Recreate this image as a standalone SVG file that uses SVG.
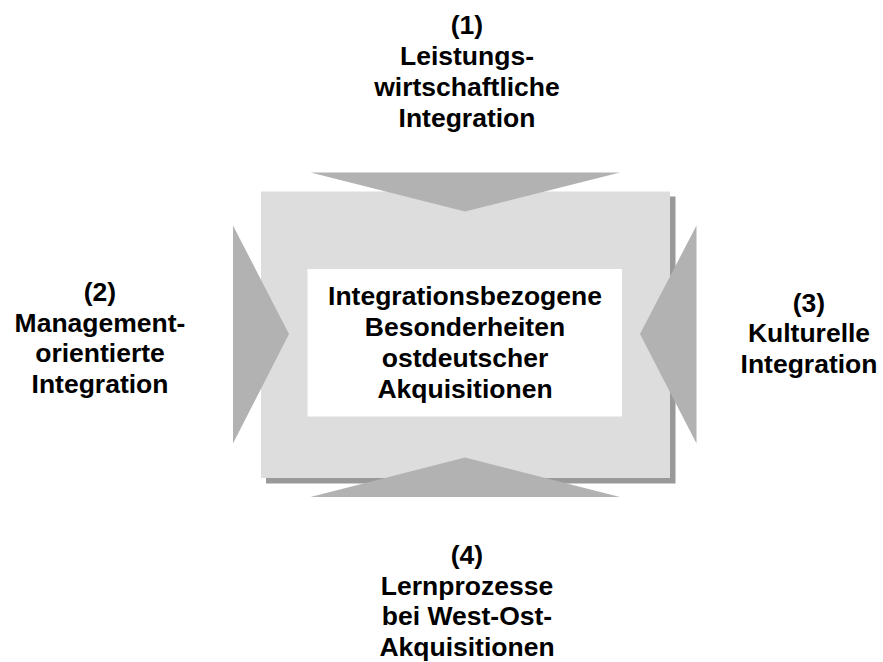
<svg xmlns="http://www.w3.org/2000/svg" width="883" height="662" viewBox="0 0 883 662">
<style>
text{font-family:"Liberation Sans",Arial,sans-serif;font-weight:bold;font-size:26.5px;fill:#000;text-anchor:middle}
.tri{fill:#B2B2B2}
</style>
<rect width="883" height="662" fill="#fff"/>
<g id="center-frame">
<rect x="266" y="196.5" width="409.5" height="287" fill="#999999"/>
<rect x="261" y="191.5" width="409" height="286.5" fill="#DDDDDD"/>
</g>
<g id="connectors">
<polygon class="tri" points="310.5,172.5 620,172.5 465,211.5"/>
<polygon class="tri" points="233,225.5 233,443.5 289,334"/>
<polygon class="tri" points="696.5,225.5 696.5,443.5 640,334"/>
<polygon class="tri" points="310.5,497 620,497 465,457.5"/>
</g>
<g id="center">
<rect x="307.5" y="269" width="314.5" height="147.5" fill="#fff"/>
<text x="465" y="305">Integrationsbezogene</text>
<text x="465" y="336">Besonderheiten</text>
<text x="465" y="367">ostdeutscher</text>
<text x="465" y="398">Akquisitionen</text>
</g>
<g id="n1">
<text x="467" y="34">(1)</text>
<text x="467" y="65">Leistungs-</text>
<text x="467" y="96">wirtschaftliche</text>
<text x="467" y="127">Integration</text>
</g>
<g id="n2">
<text x="100" y="301">(2)</text>
<text x="100" y="332">Management-</text>
<text x="100" y="362">orientierte</text>
<text x="100" y="393">Integration</text>
</g>
<g id="n3">
<text x="809" y="312">(3)</text>
<text x="809" y="342">Kulturelle</text>
<text x="809" y="373">Integration</text>
</g>
<g id="n4">
<text x="467" y="564">(4)</text>
<text x="467" y="594.5">Lernprozesse</text>
<text x="467" y="625">bei West-Ost-</text>
<text x="467" y="655.5">Akquisitionen</text>
</g>
</svg>
